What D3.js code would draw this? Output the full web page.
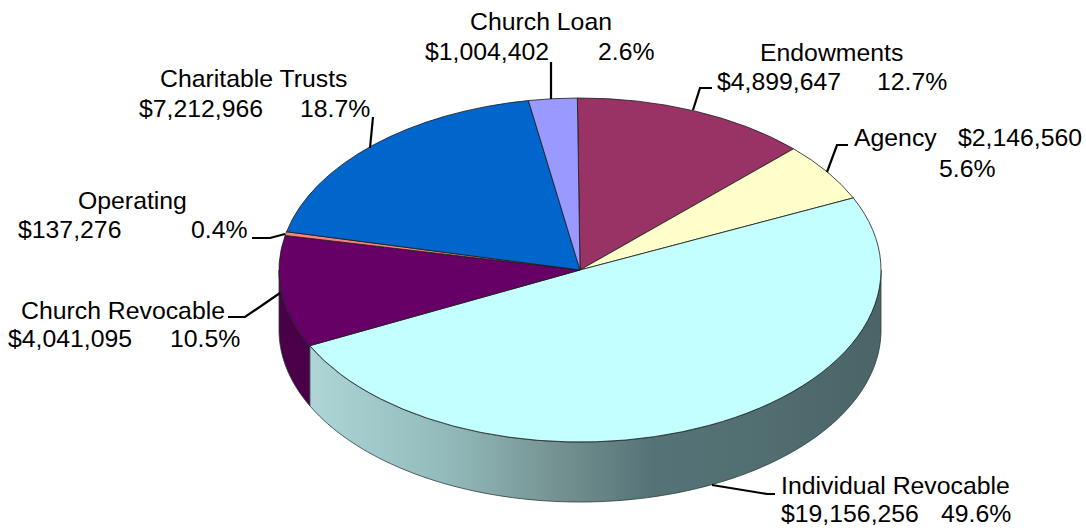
<!DOCTYPE html>
<html><head><meta charset="utf-8">
<script src="https://cdn.jsdelivr.net/npm/d3@7"></script>
<style>html,body{margin:0;padding:0;background:#fff}svg{display:block}text{font-family:"Liberation Sans",Arial,sans-serif;font-size:24.8px;fill:#000}</style>
</head><body><div id="c"></div>
<script>
const categories=["Endowments","Agency","Individual Revocable","Church Revocable","Operating","Charitable Trusts","Church Loan"];
const amounts=[4899647,2146560,19156256,4041095,137276,7212966,1004402];
const colors=["#993366","#ffffcc","#c4ffff","#660066","#ff8080","#0066cc","#9999ff"];
const sideColors=[null,null,"url(#sideGrad)","#4a0048",null,null,null];
const labelRuns=[
 ["Church Loan",470,30],["$1,004,402",425,60],["2.6%",598,60],
 ["Endowments",760,61],["$4,899,647",717,90],["12.7%",877,90],
 ["Agency",854,146],["$2,146,560",958,146],["5.6%",939,177],
 ["Charitable Trusts",160,87],["$7,212,966",139,117],["18.7%",300,117],
 ["Operating",78,209],["$137,276",18,238],["0.4%",191,238],
 ["Church Revocable",21,319],["$4,041,095",8,347],["10.5%",170,347],
 ["Individual Revocable",781,494],["$19,156,256",781,522],["49.6%",941,522]];
const leaders=[
 [[551,62],[551,99]],
 [[712,88],[700,88],[693,110]],
 [[848,145],[837,145],[827,172]],
 [[775,494],[767,494],[712,485]],
 [[373,117],[370,148]],
 [[252,238],[270,238],[285,234]],
 [[228,317],[245,317],[280,293]]];

const W=1086,H=531,cx=580,cy=270,rx=301,ry=172,depth=60;
const svg=d3.select("#c").append("svg").attr("width",W).attr("height",H);
const defs=svg.append("defs");
const g=defs.append("linearGradient").attr("id","sideGrad").attr("gradientUnits","userSpaceOnUse")
 .attr("x1",cx-rx).attr("x2",cx+rx).attr("y1",0).attr("y2",0);
[[0,"#b4dcdc"],[0.28,"#93baba"],[0.48,"#728e8e"],[0.62,"#557377"],[0.8,"#526e70"],[1,"#4a6468"]]
 .forEach(([o,c])=>g.append("stop").attr("offset",o).attr("stop-color",c));

const start=-0.5*Math.PI/180;
const pie=d3.pie().sort(null).startAngle(start).endAngle(start+2*Math.PI);
const arcs=pie(amounts);
const px=a=>cx+rx*Math.sin(a), py=a=>cy-ry*Math.cos(a);

// extruded wall: the visible lower half of each slice's rim
const sideLine=d3.line();
arcs.forEach((d,i)=>{
  const a0=Math.max(d.startAngle,Math.PI/2), a1=Math.min(d.endAngle,3*Math.PI/2);
  if(a1<=a0||!sideColors[i])return;
  const steps=d3.range(a0,a1,Math.PI/180).concat([a1]);
  const top=steps.map(a=>[px(a),py(a)]);
  const bot=steps.slice().reverse().map(a=>[px(a),py(a)+depth]);
  svg.append("path").attr("d",sideLine(top.concat(bot))+"Z").attr("fill",sideColors[i])
    .attr("stroke","#2c3c3c").attr("stroke-width",0.8).attr("stroke-linejoin","round");
});
// top face
const arc=d3.arc().innerRadius(0).outerRadius(rx);
svg.append("g").attr("transform",`translate(${cx},${cy}) scale(1,${ry/rx})`)
 .selectAll("path").data(arcs).join("path")
 .attr("d",arc).attr("fill",(d,i)=>colors[i])
 .attr("stroke","#1a1a1a").attr("stroke-width",0.8).attr("vector-effect","non-scaling-stroke");

// leaders
const ln=d3.line();
svg.append("g").selectAll("path").data(leaders).join("path").attr("d",d=>ln(d))
 .attr("fill","none").attr("stroke","#000").attr("stroke-width",2.2);
// labels
svg.append("g").selectAll("text").data(labelRuns).join("text")
 .attr("x",d=>d[1]).attr("y",d=>d[2]).text(d=>d[0]);
</script></body></html>
